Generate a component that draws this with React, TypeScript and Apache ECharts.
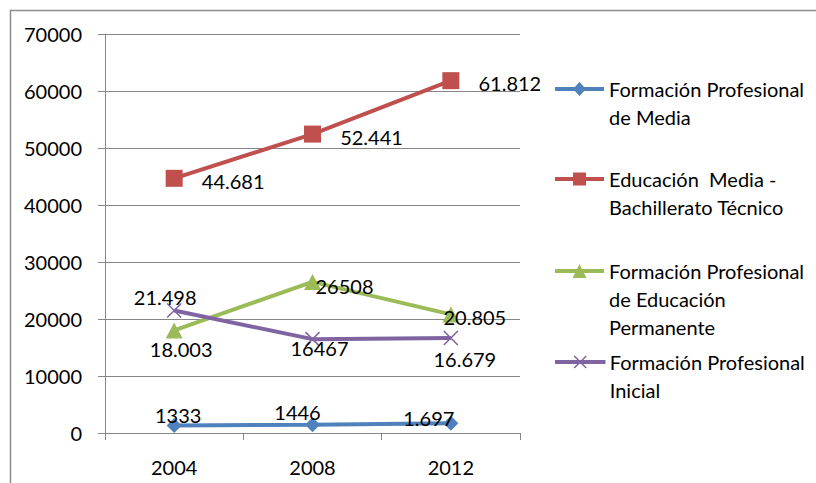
import React, { useEffect, useRef } from "react";
import * as echarts from "echarts";

const years = ["2004", "2008", "2012"];
const seriesNames = [
  "Formación Profesional\nde Media",
  "Educación  Media -\nBachillerato Técnico",
  "Formación Profesional\nde Educación\nPermanente",
  "Formación Profesional\nInicial",
];
const fpMedia = [1333, 1446, 1697];
const bachTecnico = [44681, 52441, 61812];
const fpPermanente = [18003, 26508, 20805];
const fpInicial = [21498, 16467, 16679];

const fpMediaLabels = ["1333", "1446", "1.697"];
const bachTecnicoLabels = ["44.681", "52.441", "61.812"];
const fpPermanenteLabels = ["18.003", "26508", "20.805"];
const fpInicialLabels = ["21.498", "16467", "16.679"];

const yTicks = { min: 0, max: 70000, interval: 10000 };

// label offsets (px) relative to marker centre
const offsets = [
  [[4, -10], [-15, -13], [-22, -5]],
  [[59, 3], [59, 3], [59, 2]],
  [[7, 19], [32, 4], [24, 3]],
  [[-9, -13], [7, 9], [14, 21]],
];

const colors = ["#4F81BD", "#C0504D", "#9BBB59", "#8064A2"];
const symbols = [
  "diamond",
  "rect",
  "triangle",
  "path://M0,0 L10,10 M10,0 L0,10",
];
const symbolSizes = [[15, 15], [17, 17], [17, 16], [14, 14]];

// legend icons drawn in a 49 x 14 box: line + marker
const BAR = "M0,5 L49,5 L49,9 L0,9 Z";
const legendIcons = [
  "path://" + BAR + " M24.5,0 L31,7 L24.5,14 L18,7 Z",
  "path://" + BAR + " M18,0.5 L31,0.5 L31,13.5 L18,13.5 Z M24.5,0 L24.5,14",
  "path://" + BAR + " M24.5,0 L31.5,14 L17.5,14 Z",
  "path://M0,5.8 L49,5.8 L49,8.2 L0,8.2 Z M18.5,1 L30.5,13 M30.5,1 L18.5,13 M24.5,0 L24.5,0.01 M24.5,14 L24.5,13.99",
];
const FONT = "Lato";

export default function App() {
  const ref = useRef<HTMLDivElement>(null);
  useEffect(() => {
    if (!ref.current) return;
    const chart = echarts.init(ref.current, undefined, { renderer: "svg" });
    const values = [fpMedia, bachTecnico, fpPermanente, fpInicial];
    const labels = [fpMediaLabels, bachTecnicoLabels, fpPermanenteLabels, fpInicialLabels];
    const lineCounts = seriesNames.map((n) => n.split("\n").length);
    const firstLineY = [89, 179, 271, 362];
    const LH = 28;

    const series = values.map((vals, si) => ({
      name: seriesNames[si],
      type: "line",
      data: vals.map((v, i) => ({
        value: v,
        label: { offset: offsets[si][i], formatter: labels[si][i] },
      })),
      symbol: symbols[si],
      symbolSize: symbolSizes[si],
      lineStyle: { color: colors[si], width: 4 },
      itemStyle:
        si === 3
          ? { color: colors[si], borderColor: colors[si], borderWidth: 1.5 }
          : { color: colors[si] },
      label: {
        show: true,
        position: "inside",
        color: "#000",
        fontFamily: FONT,
        fontSize: 20,
        align: "center",
        verticalAlign: "middle",
      },
      z: 2 + si,
    }));

    const legends = seriesNames.map((name, i) => ({
      data: [name],
      left: 555,
      top: firstLineY[i] - (lineCounts[i] - 0.5) * LH,
      orient: "vertical",
      icon: legendIcons[i],
      symbolKeepAspect: false,
      itemWidth: 49,
      itemHeight: 14,
      selectedMode: false,
      padding: 0,
      itemStyle: {
        color: colors[i],
        borderColor: colors[i],
        borderWidth: i === 3 ? 1.5 : 0,
      },
      formatter: (n: string) => "\n".repeat(lineCounts[i] - 1) + n,
      textStyle: {
        color: "#000",
        fontFamily: FONT,
        fontSize: 20,
        lineHeight: LH,
      },
    }));

    chart.setOption({
      animation: false,
      backgroundColor: "#fff",
      color: colors,
      grid: { left: 105, top: 34, right: 296, bottom: 50, containLabel: false },
      xAxis: {
        type: "category",
        data: years,
        boundaryGap: true,
        axisLine: { lineStyle: { color: "#868686", width: 1 } },
        axisTick: { show: true, length: 7, lineStyle: { color: "#868686" } },
        axisLabel: { color: "#000", fontFamily: FONT, fontSize: 20, margin: 24 },
      },
      yAxis: {
        type: "value",
        min: yTicks.min,
        max: yTicks.max,
        interval: yTicks.interval,
        axisLine: { show: true, lineStyle: { color: "#868686", width: 1 } },
        axisTick: { show: true, length: 7, lineStyle: { color: "#868686" } },
        splitLine: { lineStyle: { color: "#868686", width: 1 } },
        axisLabel: {
          color: "#000",
          fontFamily: FONT,
          fontSize: 20,
          margin: 23,
          formatter: (v: number) => String(v),
        },
      },
      legend: legends,
      graphic: [
        {
          type: "rect",
          shape: { x: 10.5, y: 10.5, width: 1000, height: 1000 },
          style: { fill: "none", stroke: "#8c8c8c", lineWidth: 1.5 },
          silent: true,
          z: -1,
        },
      ],
      series,
    });
    return () => chart.dispose();
  }, []);
  return (
    <div
      ref={ref}
      style={{ position: "fixed", left: 0, top: 0, width: 816, height: 483 }}
    />
  );
}
